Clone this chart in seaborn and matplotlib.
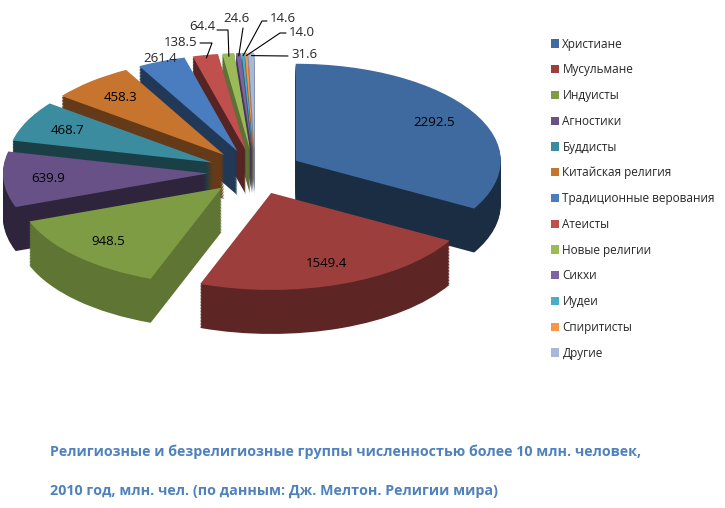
import numpy as np
import matplotlib
matplotlib.use("Agg")
import matplotlib.pyplot as plt
import seaborn as sns
from matplotlib.colors import to_rgb

categories = ["Христиане", "Мусульмане", "Индуисты", "Агностики", "Буддисты",
              "Китайская религия", "Традиционные верования", "Атеисты",
              "Новые религии", "Сикхи", "Иудеи", "Спиритисты", "Другие"]
values = [2292.5, 1549.4, 948.5, 639.9, 468.7, 458.3, 261.4, 138.5,
          64.4, 24.6, 14.6, 14.0, 31.6]
colors = ["#3F6A9F", "#9B3E3C", "#7E9C44", "#675186", "#3B8C9E", "#C7742F",
          "#4A7DC0", "#C0504D", "#9BBB59", "#8064A2", "#4BACC6", "#F79646",
          "#A7B9D9"]
title_lines = ["Религиозные и безрелигиозные группы численностью более 10 млн. человек,",
               "2010 год, млн. чел. (по данным: Дж. Мелтон. Религии мира)"]

# label spots (pixels) for thin slices: text anchor, alignment, leader path
small_labels = {
    6: ((160, 58), "center", []),
    7: ((197, 43), "right", [(200, 43), (212, 43)]),
    8: ((215, 26), "right", [(217, 30), (228, 30)]),
    9: ((236, 19), "center", [(243, 28)]),
    10: ((270, 19), "left", [(267, 21), (262, 21)]),
    11: ((289, 32), "left", [(286, 33), (280, 33)]),
    12: ((291, 55), "left", [(288, 56)]),
}

sns.set_theme(style="white")
plt.rcParams['font.family'] = ['Open Sans', 'DejaVu Sans']

W, H = 725, 508
CX, CY = 255, 172
RX, RY = 205, 97
DEPTH = 44
EXPLODE = 0.23


def to_data(px, py):
    return ((px - CX) / RX, (CY - py) / RY)


def shade(c, f):
    r, g, b = to_rgb(c)
    return (r * f, g * f, b * f)


fig = plt.figure(figsize=(7.25, 5.08), dpi=100)
ax = fig.add_axes([0, 0, 1, 1])

explode = [EXPLODE] * len(values)
total = sum(values)
# middle angle of each slice (math convention) for depth ordering
ends = 90 - 360 * np.cumsum(values) / total
starts = np.concatenate([[90], ends[:-1]])
mids = np.deg2rad((starts + ends) / 2)
order = (1 - np.sin(mids)) * 1000

side_f = [0.42, 0.6, 0.75, 0.45, 0.45, 0.5, 0.45, 0.45, 0.6, 0.55, 0.55, 0.6, 0.7]
side_colors = [shade(c, f) for c, f in zip(colors, side_f)]

n_layers = 30
for k in range(n_layers, 0, -1):
    off = -k * DEPTH / RY / n_layers
    wedges, _ = ax.pie(values, colors=side_colors, startangle=90, counterclock=False,
                       explode=explode, center=(0, off), wedgeprops=dict(linewidth=0))
    for i, w in enumerate(wedges):
        w.set_zorder(order[i] + (n_layers - k))

wedges, texts, autotexts = ax.pie(values, colors=colors, startangle=90, counterclock=False,
                                  explode=explode, autopct="%1.1f", pctdistance=0.78,
                                  wedgeprops=dict(linewidth=0),
                                  textprops=dict(fontsize=9.5, color="black"))
for i, (w, t) in enumerate(zip(wedges, autotexts)):
    w.set_zorder(order[i] + n_layers + 5)
    t.set_zorder(5000)
    if i < 6:
        t.set_text(f"{values[i]:.1f}")
    else:
        t.set_text("")

# outside labels for small slices
for i, (txt, ha, path) in small_labels.items():
    tx, ty = to_data(*txt)
    ax.text(tx, ty, f"{values[i]:.1f}", fontsize=9.5, ha=ha, va="center", zorder=5000)
    if path:
        theta = mids[i]
        px = EXPLODE * np.cos(theta) + 0.97 * np.cos(theta)
        py = EXPLODE * np.sin(theta) + 0.97 * np.sin(theta)
        pts = [to_data(*p) for p in path] + [(px, py)]
        ax.plot([p[0] for p in pts], [p[1] for p in pts], color="black", lw=0.8, zorder=4999)

ax.set_aspect("auto")
ax.set_xlim(-CX / RX, (W - CX) / RX)
ax.set_ylim(-(H - CY) / RY, CY / RY)
ax.axis("off")

ax.legend(wedges, categories, loc="upper left", bbox_to_anchor=(540 / W, 1 - 27 / H),
          bbox_transform=fig.transFigure, frameon=False, fontsize=8.5,
          labelspacing=1.08, handlelength=0.7, handleheight=0.7, handletextpad=0.3)

for j, line in enumerate(title_lines):
    fig.text(50 / W, 1 - (452 + 39 * j) / H, line, fontsize=10.3, fontweight="bold",
             color="#4F81BD", ha="left", va="center")

fig.savefig("out.png", dpi=100)
